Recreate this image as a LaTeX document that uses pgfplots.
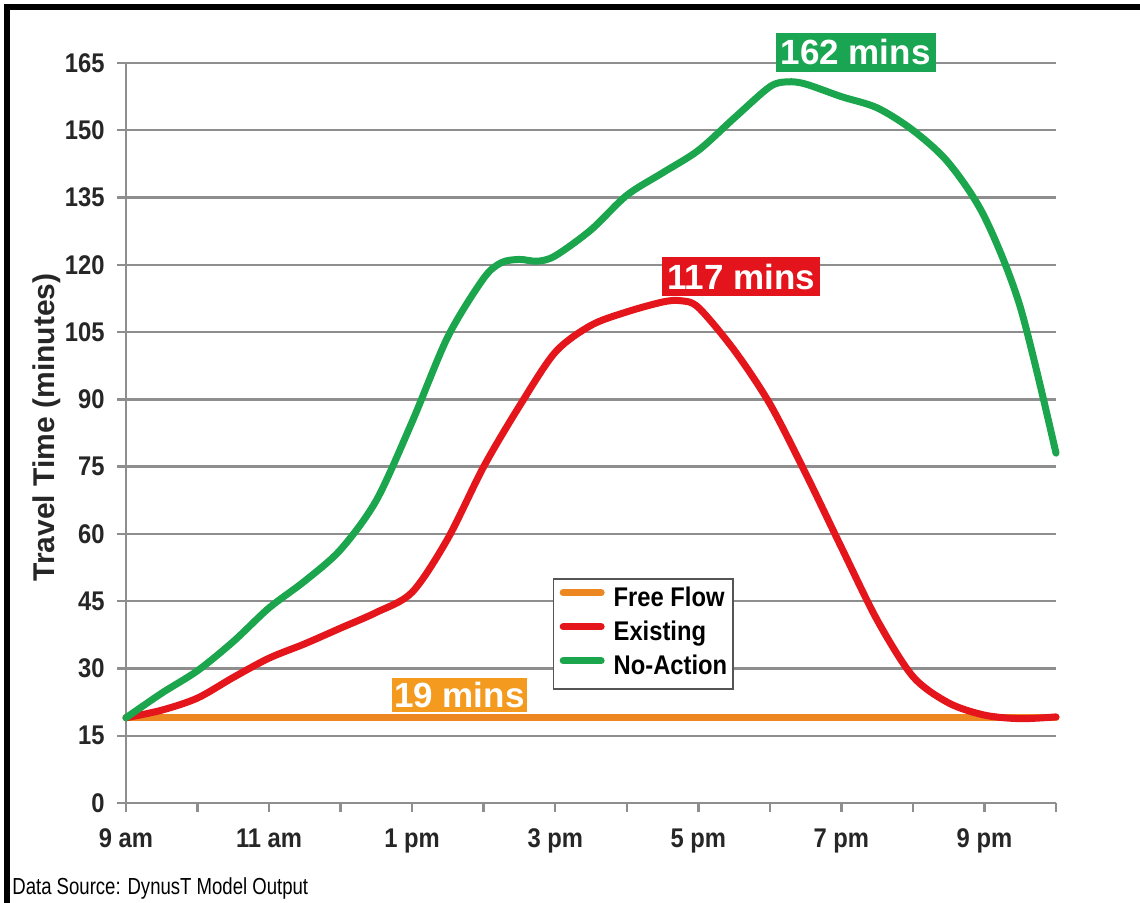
\documentclass[border=0pt]{standalone}
\usepackage{pgfplots}
\pgfplotsset{compat=1.18}
\usepackage{fontspec}
\setmainfont{Liberation Sans}
\newfontfamily\narrow[FakeStretch=0.8]{Liberation Sans}
\newfontfamily\semi[FakeStretch=0.88]{Liberation Sans}
\definecolor{axisgray}{HTML}{8E8E8E}
\definecolor{lgreen}{HTML}{1BA54C}
\definecolor{lred}{HTML}{E4161C}
\definecolor{lorange}{HTML}{EC8722}
\definecolor{borange}{HTML}{F39A1F}
\definecolor{bgreen}{HTML}{19A552}
\definecolor{bred}{HTML}{E3141B}
\definecolor{legframe}{HTML}{555555}
\begin{document}
\begin{tikzpicture}
\begin{axis}[
  scale only axis, width=465pt, height=370pt,
  at={(0pt,0pt)}, anchor=south west,
  xmin=9, xmax=22, ymin=0, ymax=165,
  axis x line*=bottom, axis y line*=left,
  axis line style={draw=axisgray, line width=1.2pt},
  xtick={9,...,22},
  xticklabels={9 am,,11 am,,1 pm,,3 pm,,5 pm,,7 pm,,9 pm,},
  ytick={0,15,...,165},
  tick align=outside, major tick length=4.5pt,
  tick style={draw=axisgray, line width=1.2pt},
  ymajorgrids, grid style={draw=axisgray, line width=1.2pt},
  ticklabel style={font=\semi\bfseries\fontsize{13.5}{14}\selectfont, text=black!85, inner sep=0pt},
  xticklabel style={anchor=base, yshift=-18pt},
  yticklabel style={anchor=east, xshift=-6pt},
  /pgf/number format/assume math mode=true,
  clip=false,
  legend style={at={(rel axis cs:0.459,0.304)}, anchor=north west,
    draw=legframe, line width=0.8pt, fill=white, inner xsep=3pt, inner ysep=4pt,
    row sep=4pt, column sep=4.5pt,
    nodes={inner sep=0pt, text height=10pt, text depth=3pt},
    font=\semi\bfseries\fontsize{13.5}{14}\selectfont,
    cells={anchor=west}},
  legend image code/.code={\draw[#1, line width=3.5pt] (0pt,3.5pt) -- (19pt,3.5pt);},
  every axis plot/.append style={line width=3.5pt, line cap=round, line join=round},
]
\addplot[lorange] coordinates {(9,19) (22,19)};
\addlegendentry{Free Flow}
\addplot[lred, smooth, tension=0.5] coordinates {
(9,19) (9.5,20.7) (10,23.4) (10.5,28) (11,32.3) (11.5,35.5) (12,39) (12.5,42.5)
(13,47) (13.5,59) (14,75) (14.5,88.5) (15,100.5) (15.5,106.5) (16,109.5)
(16.5,111.7) (16.75,112) (17,110.5) (17.5,101) (18,89) (18.5,73.5) (19,57)
(19.5,40.8) (20,28.2) (20.5,22.3) (21,19.6) (21.5,18.8) (22,19.2)};
\addlegendentry{Existing}
\addplot[lgreen, smooth, tension=0.5] coordinates {
(9,19) (9.5,24.5) (10,29.5) (10.5,36) (11,43.5) (11.5,49.5) (12,56.5) (12.5,67.5)
(13,85) (13.5,104) (14,117) (14.25,120.5) (14.5,121.2) (14.75,120.8) (15,122)
(15.5,127.8) (16,135.5) (16.5,140.5) (17,145.5) (17.5,152.7) (18,159.7)
(18.25,160.8) (18.5,160.3) (19,157.5) (19.5,155) (20,150) (20.5,142.7)
(21,130.7) (21.5,110.6) (22,78)};
\addlegendentry{No-Action}
\node[fill=bgreen, text=white, font=\bfseries\fontsize{17.5}{18}\selectfont,
  inner xsep=2.5pt, minimum height=19.5pt] at (axis cs:19.2,167.4) {162 mins};
\node[fill=bred, text=white, font=\bfseries\fontsize{17.5}{18}\selectfont,
  inner xsep=2.5pt, minimum height=19.5pt] at (axis cs:17.6,117.3) {117 mins};
\node[fill=borange, text=white, font=\bfseries\fontsize{17.5}{18}\selectfont,
  inner xsep=1pt, minimum height=17pt, inner ysep=0pt] at (axis cs:13.66,24.1) {19 mins};
\end{axis}
\node[rotate=90, font=\bfseries\fontsize{15}{16}\selectfont, text=black!85] at (-39.5pt,187.75pt) {Travel Time (minutes)};
\node[anchor=base west, font=\narrow\fontsize{11.6}{12}\selectfont, inner sep=0pt] at (-57pt,-46pt) {Data Source: DynusT Model Output};
\draw[line width=3pt] (-59.5pt,-50pt) -- (-59.5pt,398pt) -- (507pt,398pt);
\pgfresetboundingbox
\path (-63pt,-50pt) rectangle (507pt,401.5pt);
\end{tikzpicture}
\end{document}
